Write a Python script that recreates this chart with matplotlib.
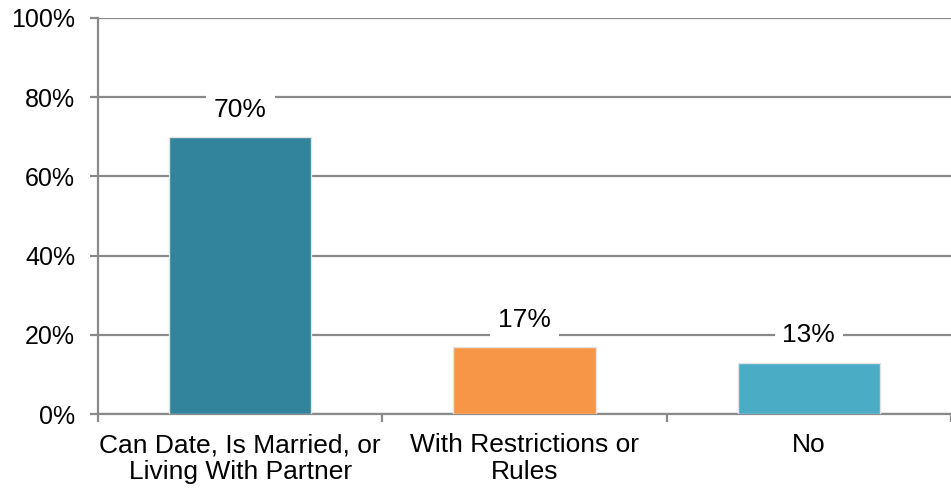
import matplotlib
matplotlib.use("Agg")
import matplotlib.pyplot as plt
import numpy as np

categories = ["Can Date, Is Married, or\nLiving With Partner", "With Restrictions or\nRules", "No"]
values = [70, 17, 13]
colors = ["#31849B", "#F79646", "#4BACC6"]
yticks = [0, 20, 40, 60, 80, 100]

plt.rcParams['font.family'] = ['Liberation Sans', 'DejaVu Sans']

fig = plt.figure(figsize=(9.51, 4.93), dpi=100)
ax = fig.add_axes([98/951, 79/493, 1 - 98/951, (414-18)/493])

x = np.arange(len(categories))
ax.bar(x, values, width=0.5, color=colors, edgecolor="#E3E3E3", linewidth=1.0, zorder=3)
ax.set_xlim(-0.5, len(categories) - 0.5)
ax.set_ylim(0, 100)

ax.set_yticks(yticks)
ax.set_yticklabels([f"{v}%" for v in yticks], fontsize=18)
ax.yaxis.grid(True, color="#8A8A8A", linewidth=1.6, zorder=0)
ax.set_axisbelow(True)

ax.set_xticks(x)
ax.set_xticklabels(categories, fontsize=19, linespacing=1.12)
ax.tick_params(axis='x', length=0, pad=14)
ax.set_xticks(np.arange(len(categories) + 1) - 0.5, minor=True)
ax.tick_params(axis='x', which='minor', length=5.5, width=1.6, color="#8A8A8A")
ax.tick_params(axis='y', length=5.5, width=1.6, color="#8A8A8A", pad=11)

for s in ["top", "right"]:
    ax.spines[s].set_visible(False)
for s in ["left", "bottom"]:
    ax.spines[s].set_color("#8A8A8A")
    ax.spines[s].set_linewidth(1.6)

for xi, v in zip(x, values):
    ax.annotate(f"{v}%", (xi, v), xytext=(0, 19.5), textcoords="offset points",
                ha="center", va="center", fontsize=19,
                bbox=dict(boxstyle="square,pad=0.3", fc="white", ec="none"), zorder=4)

fig.savefig("out.png", dpi=100)
